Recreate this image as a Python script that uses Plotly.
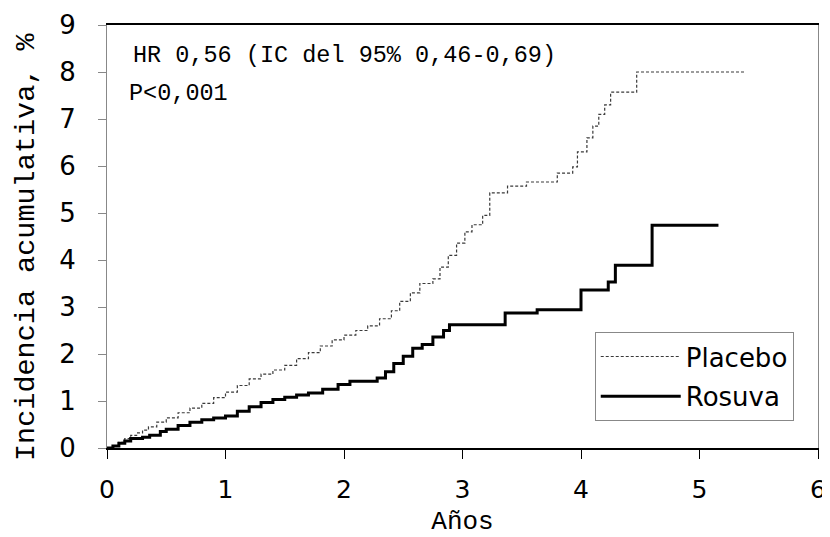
import plotly.graph_objects as go

# Placebo cumulative incidence (%) - Kaplan-Meier style steps
placebo_t = [0, 0.05, 0.1, 0.15, 0.2, 0.25, 0.3, 0.35, 0.42, 0.5, 0.6, 0.7, 0.8, 0.9,
             1.0, 1.1, 1.2, 1.3, 1.4, 1.5, 1.6, 1.7, 1.8, 1.9, 2.0, 2.1, 2.2, 2.3, 2.4,
             2.47, 2.56, 2.64, 2.75, 2.81, 2.88, 2.95, 3.02, 3.08, 3.17, 3.23, 3.38,
             3.54, 3.80, 3.93, 3.97, 4.05, 4.1, 4.15, 4.2, 4.25, 4.47, 5.38]
placebo_v = [0, 0.05, 0.12, 0.2, 0.27, 0.32, 0.38, 0.45, 0.55, 0.64, 0.75, 0.85, 0.95, 1.07,
             1.19, 1.33, 1.47, 1.57, 1.66, 1.76, 1.9, 2.03, 2.17, 2.3, 2.4, 2.5, 2.6, 2.75, 2.92,
             3.12, 3.3, 3.5, 3.6, 3.85, 4.1, 4.36, 4.6, 4.75, 4.95, 5.43, 5.57,
             5.66, 5.85, 5.98, 6.3, 6.6, 6.85, 7.1, 7.3, 7.57, 8.0, 8.0]

# Rosuvastatin cumulative incidence (%)
rosuva_t = [0, 0.05, 0.1, 0.15, 0.2, 0.3, 0.36, 0.45, 0.5, 0.6, 0.7, 0.8, 0.9, 1.0,
            1.1, 1.2, 1.3, 1.4, 1.5, 1.6, 1.7, 1.82, 1.95, 2.05, 2.28, 2.35, 2.42, 2.5,
            2.58, 2.66, 2.75, 2.84, 2.89, 3.36, 3.63, 4.0, 4.23, 4.29, 4.6, 5.16]
rosuva_v = [0, 0.04, 0.1, 0.15, 0.2, 0.23, 0.27, 0.35, 0.4, 0.48, 0.55, 0.6, 0.64, 0.68,
            0.78, 0.88, 0.97, 1.03, 1.08, 1.13, 1.17, 1.25, 1.35, 1.42, 1.49, 1.62, 1.8, 1.95,
            2.12, 2.2, 2.36, 2.5, 2.62, 2.87, 2.94, 3.36, 3.53, 3.89, 4.74, 4.74]

x_ticks = [0, 1, 2, 3, 4, 5, 6]
y_ticks = [0, 1, 2, 3, 4, 5, 6, 7, 8, 9]

fig = go.Figure()
fig.add_trace(go.Scatter(
    x=placebo_t, y=placebo_v, mode="lines", name="Placebo", legendgroup="p",
    line=dict(color="#3a3a3a", width=1.2, dash="3px,2px", shape="hv"),
))
fig.add_trace(go.Scatter(
    x=rosuva_t, y=rosuva_v, mode="lines", name="Rosuva", legendgroup="r",
    line=dict(color="black", width=3, shape="hv"),
))

# page body has an 8px margin, so the figure is sized to fit the 830x537 window
fig.update_layout(
    width=822, height=529,
    margin=dict(l=99, r=12, t=17, b=89),
    paper_bgcolor="white", plot_bgcolor="white",
    showlegend=True,
    legend=dict(
        x=0.686, y=0.274, xanchor="left", yanchor="top",
        bordercolor="#888888", borderwidth=1, bgcolor="white",
        font=dict(family="DejaVu Sans", size=26, color="black"),
        itemwidth=80, tracegroupgap=3,
    ),
    xaxis=dict(
        range=[0, 6], tickvals=x_ticks, ticktext=[str(v) for v in x_ticks],
        showgrid=False, zeroline=False, automargin=False,
        showline=True, linecolor="black", linewidth=2, mirror=True,
        ticks="outside", ticklen=9, tickcolor="black", tickwidth=1,
        ticklabelstandoff=9,
        tickfont=dict(family="DejaVu Sans", size=25, color="black"),
        title=dict(text="Años", standoff=8,
                   font=dict(family="Liberation Mono", size=26, color="black")),
    ),
    yaxis=dict(
        range=[0, 9], tickvals=y_ticks, ticktext=[str(v) for v in y_ticks],
        showgrid=False, zeroline=False, automargin=False,
        showline=True, linecolor="#888888", linewidth=1, mirror=True,
        ticks="outside", ticklen=8, tickcolor="#888888", tickwidth=1,
        ticklabelstandoff=17,
        tickfont=dict(family="DejaVu Sans", size=26, color="black"),
    ),
    annotations=[
        dict(x=-0.114, y=0.475, xref="paper", yref="paper", xanchor="center", yanchor="middle",
             text="Incidencia acumulativa, %", showarrow=False, textangle=-90,
             font=dict(family="Liberation Mono", size=28.5, color="black")),
        dict(x=0.2, y=8.35, xref="x", yref="y", xanchor="left", yanchor="middle",
             text="HR 0,56 (IC del 95% 0,46-0,69)", showarrow=False,
             font=dict(family="Liberation Mono", size=23.5, color="black")),
        dict(x=0.17, y=7.55, xref="x", yref="y", xanchor="left", yanchor="middle",
             text="P<0,001", showarrow=False,
             font=dict(family="Liberation Mono", size=23.5, color="black")),
    ],
)

fig.write_html("out.html")
